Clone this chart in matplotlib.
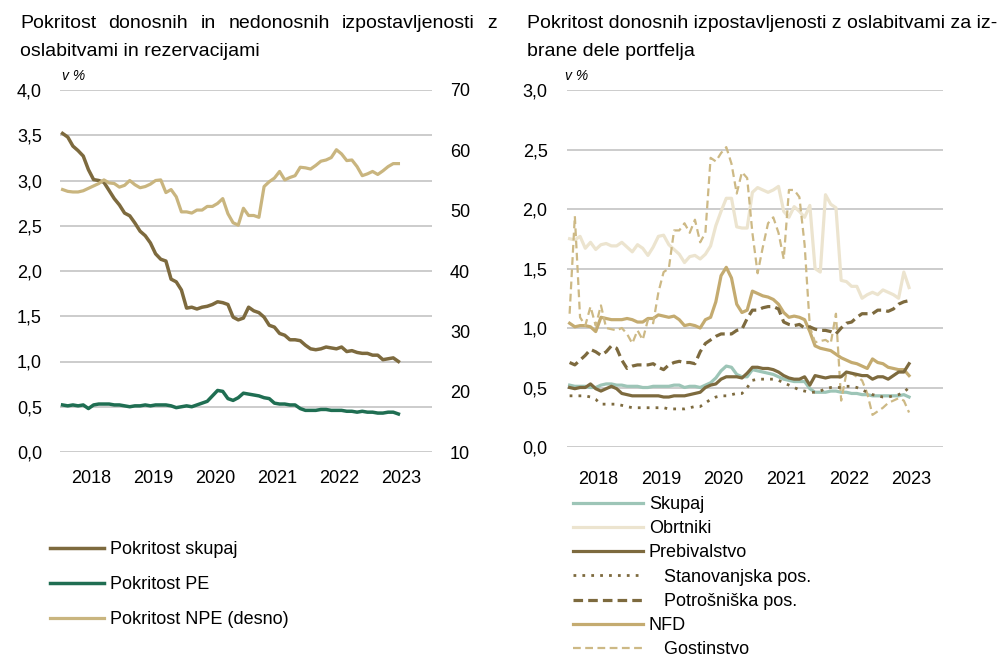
import matplotlib
matplotlib.use("Agg")
import matplotlib.pyplot as plt
from matplotlib.ticker import FuncFormatter
import numpy as np

# monthly data, Jan 2018 - Jun 2023
n_months = 66
years = [2018, 2019, 2020, 2021, 2022, 2023]

# left panel
pokritost_skupaj = [3.52, 3.48, 3.38, 3.33, 3.27, 3.12, 3.01, 3.00, 2.98, 2.89, 2.80, 2.73,
                    2.64, 2.61, 2.53, 2.44, 2.39, 2.31, 2.19, 2.13, 2.11, 1.91, 1.88, 1.79,
                    1.59, 1.60, 1.58, 1.60, 1.61, 1.63, 1.66, 1.65, 1.63, 1.49, 1.46, 1.48,
                    1.60, 1.56, 1.54, 1.49, 1.40, 1.38, 1.31, 1.29, 1.24, 1.24, 1.23, 1.18,
                    1.14, 1.13, 1.14, 1.16, 1.15, 1.14, 1.16, 1.11, 1.12, 1.10, 1.09, 1.09,
                    1.07, 1.07, 1.02, 1.03, 1.04, 1.00]
pokritost_pe = [0.52, 0.51, 0.52, 0.51, 0.52, 0.48, 0.52, 0.53, 0.53, 0.53, 0.52, 0.52,
                0.51, 0.50, 0.51, 0.51, 0.52, 0.51, 0.52, 0.52, 0.52, 0.51, 0.49, 0.50,
                0.51, 0.50, 0.52, 0.54, 0.56, 0.62, 0.68, 0.67, 0.59, 0.57, 0.60, 0.65,
                0.64, 0.63, 0.62, 0.60, 0.59, 0.54, 0.53, 0.53, 0.52, 0.52, 0.48, 0.46,
                0.46, 0.46, 0.47, 0.47, 0.46, 0.46, 0.46, 0.45, 0.45, 0.44, 0.45, 0.44,
                0.44, 0.43, 0.43, 0.44, 0.44, 0.42]
pokritost_npe = [53.5, 53.2, 53.1, 53.1, 53.3, 53.7, 54.1, 54.5, 55.1, 54.6, 54.5, 53.9,
                 54.2, 55.0, 54.3, 53.8, 54.0, 54.4, 55.0, 55.1, 53.0, 53.5, 52.3, 49.8,
                 49.8, 49.6, 50.1, 50.1, 50.7, 50.7, 51.2, 52.0, 49.5, 48.0, 47.6, 50.4,
                 49.2, 49.2, 48.9, 54.0, 54.8, 55.4, 56.5, 55.1, 55.5, 55.8, 57.2, 57.1,
                 56.9, 57.5, 58.2, 58.4, 58.8, 60.1, 59.4, 58.3, 58.4, 57.3, 55.8, 56.1,
                 56.5, 56.0, 56.6, 57.3, 57.8, 57.8]

# right panel
skupaj = [0.52, 0.51, 0.51, 0.51, 0.50, 0.50, 0.52, 0.53, 0.53, 0.52, 0.52, 0.51,
          0.51, 0.51, 0.50, 0.50, 0.51, 0.51, 0.51, 0.51, 0.52, 0.52, 0.50, 0.51,
          0.51, 0.50, 0.52, 0.54, 0.58, 0.64, 0.68, 0.67, 0.61, 0.59, 0.59, 0.65,
          0.64, 0.63, 0.62, 0.61, 0.59, 0.57, 0.56, 0.55, 0.55, 0.55, 0.49, 0.46,
          0.46, 0.46, 0.47, 0.47, 0.46, 0.46, 0.45, 0.45, 0.44, 0.44, 0.43, 0.43,
          0.43, 0.43, 0.43, 0.43, 0.44, 0.42]
obrtniki = [1.75, 1.74, 1.77, 1.67, 1.72, 1.66, 1.70, 1.71, 1.69, 1.69, 1.72, 1.68,
            1.64, 1.70, 1.67, 1.61, 1.68, 1.77, 1.78, 1.70, 1.66, 1.62, 1.55, 1.60,
            1.61, 1.58, 1.62, 1.69, 1.86, 1.98, 2.09, 2.09, 1.85, 1.84, 1.84, 2.14,
            2.18, 2.16, 2.14, 2.16, 2.19, 1.98, 1.93, 2.02, 1.98, 1.93, 2.03, 1.50,
            1.47, 2.12, 2.04, 2.01, 1.40, 1.39, 1.35, 1.35, 1.25, 1.28, 1.30, 1.28,
            1.32, 1.30, 1.28, 1.25, 1.47, 1.34]
prebivalstvo = [0.50, 0.49, 0.50, 0.50, 0.53, 0.49, 0.47, 0.49, 0.51, 0.49, 0.45, 0.44,
                0.43, 0.43, 0.43, 0.43, 0.43, 0.43, 0.42, 0.42, 0.43, 0.43, 0.43, 0.44,
                0.45, 0.46, 0.50, 0.52, 0.53, 0.57, 0.59, 0.59, 0.59, 0.58, 0.62, 0.67,
                0.67, 0.66, 0.66, 0.65, 0.63, 0.60, 0.58, 0.57, 0.57, 0.59, 0.52, 0.60,
                0.59, 0.58, 0.59, 0.59, 0.59, 0.63, 0.62, 0.61, 0.60, 0.60, 0.57, 0.59,
                0.59, 0.57, 0.60, 0.63, 0.63, 0.70]
stanovanjska = [0.43, 0.43, 0.43, 0.43, 0.42, 0.40, 0.36, 0.36, 0.36, 0.36, 0.35, 0.34,
                0.33, 0.33, 0.33, 0.33, 0.33, 0.33, 0.33, 0.32, 0.32, 0.32, 0.32, 0.33,
                0.34, 0.34, 0.37, 0.40, 0.42, 0.43, 0.43, 0.44, 0.45, 0.45, 0.50, 0.56,
                0.57, 0.57, 0.57, 0.57, 0.56, 0.54, 0.52, 0.50, 0.48, 0.47, 0.46, 0.46,
                0.47, 0.49, 0.50, 0.50, 0.50, 0.51, 0.51, 0.50, 0.48, 0.46, 0.44, 0.43,
                0.42, 0.42, 0.43, 0.44, 0.46, 0.50]
potrosniska = [0.71, 0.69, 0.73, 0.77, 0.82, 0.80, 0.77, 0.80, 0.85, 0.83, 0.73, 0.66,
               0.68, 0.69, 0.69, 0.69, 0.70, 0.67, 0.65, 0.69, 0.71, 0.72, 0.71, 0.71,
               0.70, 0.80, 0.87, 0.90, 0.93, 0.95, 0.95, 0.95, 0.98, 0.99, 1.08, 1.15,
               1.15, 1.17, 1.18, 1.18, 1.16, 1.05, 1.03, 1.02, 1.03, 1.00, 1.01, 0.99,
               0.98, 0.98, 0.97, 0.95, 1.00, 1.04, 1.05, 1.09, 1.12, 1.12, 1.12, 1.15,
               1.15, 1.14, 1.16, 1.20, 1.22, 1.23]
nfd = [1.04, 1.01, 1.02, 1.02, 1.01, 0.97, 1.09, 1.08, 1.07, 1.07, 1.07, 1.08,
       1.07, 1.05, 1.05, 1.08, 1.08, 1.11, 1.10, 1.09, 1.10, 1.07, 1.02, 1.03,
       1.02, 1.00, 1.07, 1.09, 1.22, 1.44, 1.51, 1.42, 1.20, 1.13, 1.15, 1.31,
       1.29, 1.27, 1.26, 1.24, 1.20, 1.13, 1.09, 1.10, 1.09, 1.07, 0.97, 0.85,
       0.83, 0.82, 0.81, 0.78, 0.75, 0.73, 0.71, 0.70, 0.68, 0.66, 0.74, 0.71,
       0.70, 0.67, 0.66, 0.65, 0.65, 0.60]
gostinstvo = [1.12, 1.94, 1.09, 1.02, 1.18, 1.02, 1.19, 1.00, 0.99, 0.98, 1.00, 0.95,
              0.87, 0.98, 0.90, 1.07, 1.04, 1.30, 1.47, 1.50, 1.82, 1.82, 1.88, 1.80,
              1.91, 1.72, 1.80, 2.43, 2.40, 2.47, 2.52, 2.38, 2.13, 2.31, 2.26, 1.80,
              1.46, 1.68, 1.88, 1.93, 1.80, 1.58, 2.16, 2.16, 2.10, 1.70, 1.01, 0.88,
              0.89, 0.90, 0.87, 1.12, 0.39, 0.62, 0.62, 0.59, 0.56, 0.45, 0.27, 0.30,
              0.33, 0.37, 0.39, 0.41, 0.39, 0.29]

title_left = ['Pokritost donosnih in nedonosnih izpostavljenosti z', 'oslabitvami in rezervacijami']
title_right = ['Pokritost donosnih izpostavljenosti z oslabitvami za iz-', 'brane dele portfelja']

x = 2018 + (np.arange(n_months) + 0.5) / 12.0

plt.rcParams['font.family'] = ['Liberation Sans', 'DejaVu Sans']

c_dark = '#7d6a3e'
c_green = '#1f6e52'
c_tan = '#c9b57f'
c_teal = '#9dc5b7'
c_cream = '#ece4cf'
c_nfd = '#c4ab70'
c_gost = '#cdb985'
grid_c = '#c4c4c4'

comma1 = FuncFormatter(lambda v, p: ('%.1f' % v).replace('.', ','))

fig = plt.figure(figsize=(10.03, 6.58), dpi=100)


def style(ax):
    for s in ax.spines.values():
        s.set_visible(False)
    ax.tick_params(length=0, labelsize=13)
    ax.set_xlim(2018, 2024)
    ax.set_xticks([y + 0.5 for y in years])
    ax.set_xticklabels([str(y) for y in years])


# left panel
ax1 = fig.add_axes([60 / 1003, 1 - 452 / 658, 372 / 1003, 362 / 658])
style(ax1)
ax1.set_ylim(0, 4)
ax1.set_yticks(np.arange(0, 4.01, 0.5))
ax1.yaxis.set_major_formatter(comma1)
ax1.yaxis.grid(True, color=grid_c, lw=1.2)
ax1.set_axisbelow(True)
ax1.tick_params(axis='y', pad=13)
ax1.tick_params(axis='x', pad=13)
l1, = ax1.plot(x, pokritost_skupaj, color=c_dark, lw=2.5, label='Pokritost skupaj')
l2, = ax1.plot(x, pokritost_pe, color=c_green, lw=2.5, label='Pokritost PE')
ax1b = ax1.twinx()
for s in ax1b.spines.values():
    s.set_visible(False)
ax1b.set_ylim(10, 70)
ax1b.set_yticks(range(10, 71, 10))
ax1b.tick_params(length=0, labelsize=13, pad=13)
l3, = ax1b.plot(x, pokritost_npe, color=c_tan, lw=2.3, label='Pokritost NPE (desno)')
fig.text(62 / 1003, 1 - 76 / 658, 'v %', fontsize=10, style='italic', ha='left', va='center')

fig.legend(handles=[l1, l2, l3], loc='upper left', bbox_to_anchor=(50 / 1003, 1 - 541 / 658),
           frameon=False, fontsize=13, handlelength=3.0, handletextpad=0.35,
           labelspacing=1.0, borderpad=0, borderaxespad=0)

# right panel
ax2 = fig.add_axes([567 / 1003, 1 - 447 / 658, 376 / 1003, 357 / 658])
style(ax2)
ax2.set_ylim(0, 3)
ax2.set_yticks(np.arange(0, 3.01, 0.5))
ax2.yaxis.set_major_formatter(comma1)
ax2.yaxis.grid(True, color=grid_c, lw=1.2)
ax2.set_axisbelow(True)
ax2.tick_params(axis='y', pad=14)
ax2.tick_params(axis='x', pad=17)
r1, = ax2.plot(x, skupaj, color=c_teal, lw=2.3, label='Skupaj')
r2, = ax2.plot(x, obrtniki, color=c_cream, lw=2.3, label='Obrtniki')
r6, = ax2.plot(x, nfd, color=c_nfd, lw=2.3, label='NFD')
r7, = ax2.plot(x, gostinstvo, color=c_gost, lw=1.6, ls=(0, (3.5, 2)), label='   Gostinstvo')
r5, = ax2.plot(x, potrosniska, color=c_dark, lw=2.3, ls=(0, (3, 1.6)), label='   Potrošniška pos.')
r4, = ax2.plot(x, stanovanjska, color=c_dark, lw=2.0, ls=(0, (1, 2.2)), label='   Stanovanjska pos.')
r3, = ax2.plot(x, prebivalstvo, color=c_dark, lw=2.3, label='Prebivalstvo')
fig.text(565 / 1003, 1 - 76 / 658, 'v %', fontsize=10, style='italic', ha='left', va='center')

fig.legend(handles=[r1, r2, r3, r4, r5, r6, r7], loc='upper left',
           bbox_to_anchor=(573 / 1003, 1 - 496 / 658), frameon=False, fontsize=13,
           handlelength=3.85, handletextpad=0.35, labelspacing=0.40, borderpad=0,
           borderaxespad=0)

# titles (first line of the left title is justified)
tsize = 14
renderer = fig.canvas.get_renderer()
words = title_left[0].split()
tw = [fig.text(0, 0, w, fontsize=tsize) for w in words]
widths = [t.get_window_extent(renderer).width for t in tw]
x0, x1 = 20, 497
gap = (x1 - x0 - sum(widths)) / (len(words) - 1)
pos = x0
for t, w in zip(tw, widths):
    t.set_position((pos / 1003, 1 - 23 / 658))
    t.set_va('center')
    pos += w + gap
fig.text(20 / 1003, 1 - 51 / 658, title_left[1], fontsize=tsize, ha='left', va='center')
fig.text(527 / 1003, 1 - 23 / 658, title_right[0], fontsize=tsize, ha='left', va='center')
fig.text(527 / 1003, 1 - 51 / 658, title_right[1], fontsize=tsize, ha='left', va='center')

fig.savefig('out.png', dpi=100)
